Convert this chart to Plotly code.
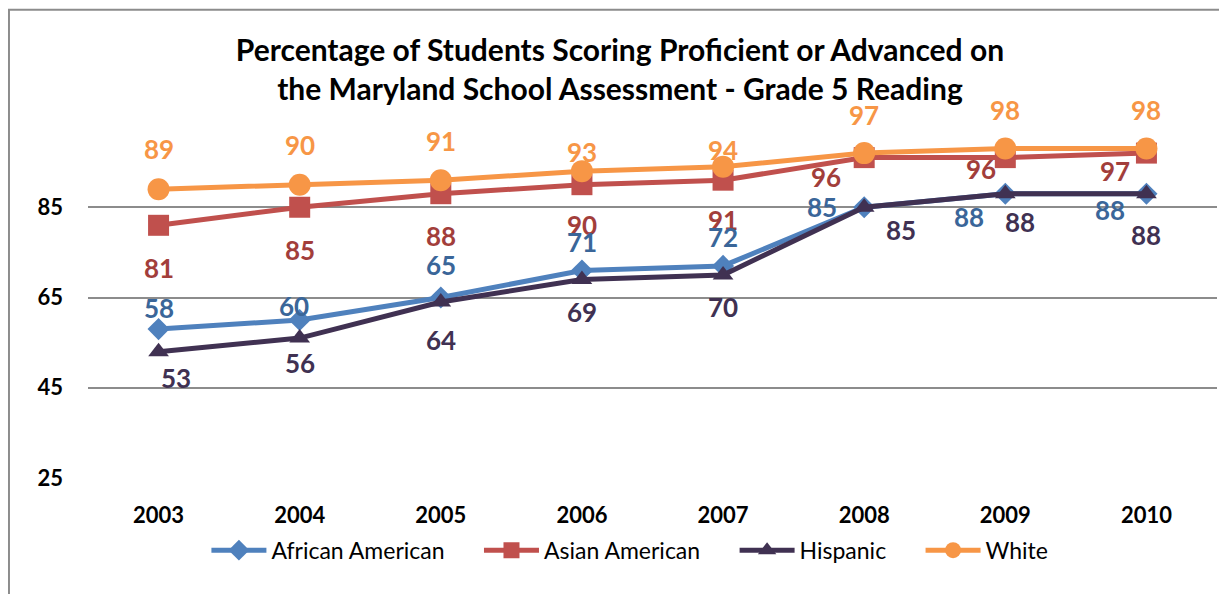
import plotly.graph_objects as go

years = ["2003", "2004", "2005", "2006", "2007", "2008", "2009", "2010"]
african_american = [58, 60, 65, 71, 72, 85, 88, 88]
asian_american = [81, 85, 88, 90, 91, 96, 96, 97]
hispanic = [53, 56, 64, 69, 70, 85, 88, 88]
white = [89, 90, 91, 93, 94, 97, 98, 98]
y_ticks = [25, 45, 65, 85]

FONT = "Lato"
GAP = "\u00a0" * 5

series = [
    dict(name="African American", y=african_american, color="#4F81BD", label_color="#3A6699",
         symbol="diamond", size=17,
         dx=[0, -6, 0, 0, 0, -42, -36, -36], dy=[-21, -14, -33, -28, -29, 0, 23, 16]),
    dict(name="Asian American", y=asian_american, color="#C0504D", label_color="#A23E3B",
         symbol="square", size=21,
         dx=[0, 0, 0, 0, 0, -38, -24, -31], dy=[43, 43, 42, 40, 40, 19, 11, 18]),
    dict(name="Hispanic", y=hispanic, color="#403152", label_color="#403152",
         symbol="triangle-up", size=18,
         dx=[17, 0, 0, 0, 0, 37, 15, 0], dy=[26, 25, 38, 33, 32, 23, 28, 41]),
    dict(name="White", y=white, color="#F79646", label_color="#F79646",
         symbol="circle", size=22,
         dx=[0, 0, 0, 0, 0, 0, 0, 0], dy=[-40, -40, -39, -19, -17, -38, -39, -39]),
]

fig = go.Figure()
label_layers = {}
for k, s in enumerate(series):
    fig.add_trace(go.Scatter(
        x=years, y=s["y"], name=s["name"] + (GAP if k < len(series) - 1 else ""),
        mode="lines+markers",
        line=dict(color=s["color"], width=5),
        marker=dict(symbol=s["symbol"], size=s["size"], color=s["color"]),
        cliponaxis=False,
    ))

# data labels: Asian first so African labels sit on top, as in the reference
annotations = []
for s in [series[1], series[0], series[2], series[3]]:
    for i, (yv, dx, dy) in enumerate(zip(s["y"], s["dx"], s["dy"])):
        annotations.append(dict(
            x=i, y=yv, text=str(yv), showarrow=False, xshift=dx, yshift=-dy,
            font=dict(family=FONT, size=26, color=s["label_color"], weight="bold"),
            xanchor="center", yanchor="middle",
        ))

fig.update_layout(
    width=1219, height=586,
    margin=dict(l=80, r=10, t=109, b=116),
    paper_bgcolor="white", plot_bgcolor="white",
    title=dict(
        text="<b>Percentage of Students Scoring Proficient or Advanced on<br>the Maryland School Assessment - Grade 5 Reading</b>",
        x=0.502, xanchor="center", y=0.910, yanchor="middle",
        font=dict(family=FONT, size=30, color="black"),
    ),
    showlegend=True,
    legend=dict(
        orientation="h", x=0.48, xanchor="center", y=-0.2, yanchor="middle",
        font=dict(family=FONT, size=23, color="black"),
        itemwidth=55, traceorder="normal", bgcolor="rgba(0,0,0,0)",
    ),
    annotations=annotations,
    shapes=[dict(type="rect", xref="paper", yref="paper",
                 x0=-0.0700, x1=1.2, y0=-0.6, y1=1.297,
                 line=dict(color="#8C8C8C", width=2), fillcolor="rgba(0,0,0,0)", layer="below")],
)
fig.update_xaxes(
    type="category", range=[-0.5, 7.5], showgrid=False, showline=False, zeroline=False,
    tickfont=dict(family=FONT, size=22, color="black", weight="bold"),
    ticklabelstandoff=22,
)
fig.update_yaxes(
    range=[25, 105], tickvals=y_ticks, showgrid=True, gridcolor="#8C8C8C", gridwidth=1.5,
    zeroline=False, showline=False,
    tickfont=dict(family=FONT, size=22, color="black", weight="bold"),
    ticklabelstandoff=24,
)

fig.write_html("out.html")
